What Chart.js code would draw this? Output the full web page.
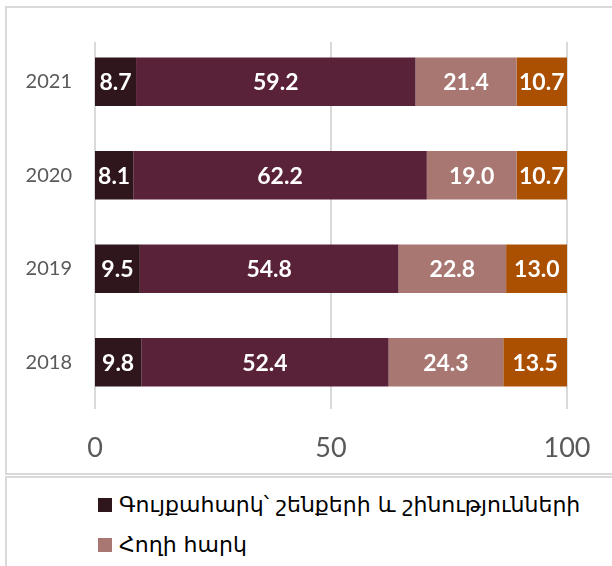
<!DOCTYPE html>
<html>
<head>
<meta charset="utf-8">
<script src="https://cdn.jsdelivr.net/npm/chart.js@4"></script>
<style>
  html, body { margin:0; padding:0; background:#fff; width:612px; height:566px; overflow:hidden; }
  #box { position:absolute; left:5px; top:6px; width:640px; height:465px; border:2px solid #d9d9d9; }
  #cv { position:absolute; left:0; top:0; }
  #legend { position:absolute; left:5px; top:476px; width:640px; height:120px; border:2px solid #d9d9d9; font-family:"DejaVu Sans", sans-serif; font-size:22px; color:#000; }
  .li { position:absolute; left:91px; display:flex; align-items:center; white-space:nowrap; }
  .sw { width:14px; height:14px; margin-right:7px; }
</style>
</head>
<body>
<div id="box"></div>
<canvas id="cv" width="612" height="473"></canvas>
<div id="legend"></div>
<script>
const categories = ["2021", "2020", "2019", "2018"];
const seriesNames = [
  "Գույքահարկ՝ շենքերի և շինությունների",
  "Գույքահարկ՝ փոխադրամիջոցների",
  "Հողի հարկ",
  "Այլ"
];
const series1 = [8.7, 8.1, 9.5, 9.8];
const series2 = [59.2, 62.2, 54.8, 52.4];
const series3 = [21.4, 19.0, 22.8, 24.3];
const series4 = [10.7, 10.7, 13.0, 13.5];
const xTicks = [0, 50, 100];
const colors = ["#2e161c", "#5a2238", "#a87771", "#ab4f00"];
const legendShown = [0, 2];

const allSeries = [series1, series2, series3, series4];

const gridPlugin = {
  id: 'grid',
  beforeDatasetsDraw(chart) {
    const ctx = chart.ctx, x = chart.scales.x, a = chart.chartArea;
    ctx.save();
    ctx.strokeStyle = '#d9d9d9';
    ctx.lineWidth = 2;
    xTicks.forEach(v => {
      const px = Math.round(x.getPixelForValue(v));
      ctx.beginPath();
      ctx.moveTo(px, a.top + 7);
      ctx.lineTo(px, a.bottom);
      ctx.stroke();
    });
    ctx.restore();
  }
};

const labelPlugin = {
  id: 'labels',
  afterDatasetsDraw(chart) {
    const ctx = chart.ctx;
    ctx.save();
    ctx.fillStyle = '#ffffff';
    ctx.font = 'bold 23px Lato';
    ctx.textAlign = 'center';
    ctx.textBaseline = 'middle';
    chart.data.datasets.forEach((ds, i) => {
      chart.getDatasetMeta(i).data.forEach((el, j) => {
        const cx = (el.x + el.base) / 2;
        ctx.fillText(ds.data[j].toFixed(1), cx, el.y + 1);
      });
    });
    ctx.restore();
  }
};

new Chart(document.getElementById('cv'), {
  type: 'bar',
  data: {
    labels: categories,
    datasets: allSeries.map((d, i) => ({
      label: seriesNames[i],
      data: d,
      backgroundColor: colors[i],
      borderWidth: 0,
      barPercentage: 0.52,
      categoryPercentage: 1.0
    }))
  },
  options: {
    indexAxis: 'y',
    responsive: false,
    animation: false,
    layout: { padding: { left: 0, right: 45, top: 35, bottom: 0 } },
    plugins: { legend: { display: false }, tooltip: { enabled: false } },
    scales: {
      x: {
        stacked: true, min: 0, max: 100,
        afterBuildTicks(s) { s.ticks = xTicks.map(v => ({ value: v })); },
        afterFit(s) { s.height = 64; },
        grid: { display: false }, border: { display: false },
        ticks: { color: '#595959', font: { family: 'Lato', size: 27 }, padding: 15, maxRotation: 0 }
      },
      y: {
        stacked: true,
        afterFit(s) { s.width = 95; },
        grid: { display: false }, border: { display: false },
        ticks: { color: '#595959', font: { family: 'Lato', size: 20 }, padding: 15 }
      }
    }
  },
  plugins: [gridPlugin, labelPlugin]
});

const leg = document.getElementById('legend');
legendShown.forEach((idx, r) => {
  const d = document.createElement('div');
  d.className = 'li';
  d.style.top = (14 + r * 40) + 'px';
  const sw = document.createElement('span');
  sw.className = 'sw';
  sw.style.background = colors[idx];
  const t = document.createElement('span');
  t.textContent = seriesNames[idx];
  d.appendChild(sw); d.appendChild(t);
  leg.appendChild(d);
});
</script>
</body>
</html>
